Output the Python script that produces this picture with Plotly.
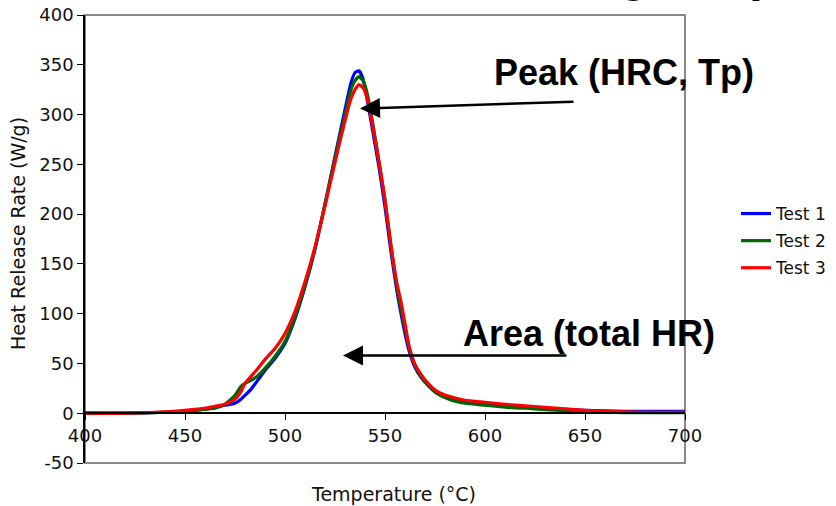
import plotly.graph_objects as go

temperature = [400, 420, 440, 450, 460, 465, 470, 475, 478, 480, 483, 486, 490, 495, 500,
               505, 510, 515, 520, 525, 530, 533, 535, 537, 539, 541, 544, 547, 550, 553,
               556, 558, 560, 562, 565, 568, 572, 576, 582, 590, 600, 610, 620, 630, 640,
               650, 660, 670, 680, 690, 700]

test1 = [0, 0, 1, 2, 4, 6, 8, 10, 14, 18, 24, 32, 43, 55, 70,
         95, 127, 165, 210, 258, 305, 332, 342, 344, 336, 316, 282, 247, 207, 162,
         122, 100, 80, 63, 46, 36, 27, 20, 15, 12, 10, 8, 7, 5, 4,
         3, 2.5, 2, 2, 2, 2]

test2 = [0, 0, 1, 2, 4, 5, 9, 18, 27, 30, 33, 37, 45, 57, 72,
         97, 128, 165, 210, 256, 300, 325, 334, 338, 334, 322, 290, 252, 214, 168,
         126, 105, 85, 66, 48, 37, 27, 20, 14, 10, 8, 6, 5, 3.5, 2.5,
         1.5, 1, 0.5, 0.5, 0.5, 0.5]

test3 = [0, 0, 1.5, 3, 5, 7, 9, 14, 22, 30, 37, 44, 54, 65, 80,
         102, 132, 167, 208, 252, 294, 316, 325, 330, 327, 317, 287, 253, 214, 168,
         130, 112, 90, 68, 49, 39, 29, 22, 17, 13, 11, 9, 7.5, 6, 4.5,
         3, 2, 1.5, 1, 1, 1]

series_names = ["Test 1", "Test 2", "Test 3"]
series_values = [test1, test2, test3]
series_colors = ["#0000ff", "#006600", "#ff0000"]

x_ticks = [400, 450, 500, 550, 600, 650, 700]
y_ticks = [-50, 0, 50, 100, 150, 200, 250, 300, 350, 400]

fig = go.Figure()
for name, vals, col in zip(series_names, series_values, series_colors):
    fig.add_trace(go.Scatter(x=temperature, y=vals, mode="lines", name=name,
                             legendgroup=name,
                             line=dict(color=col, width=3.2, shape="spline", smoothing=0.5)))

tick_font = dict(family="DejaVu Sans", size=18, color="#111111")
ann_font = dict(family="Liberation Sans", size=36, color="black", weight="bold")

fig.update_layout(
    width=836, height=506,
    margin=dict(l=85, r=151, t=15, b=43, autoexpand=False),
    paper_bgcolor="white", plot_bgcolor="white",
    showlegend=True,
    legend=dict(x=1.085, y=0.596, xanchor="left", yanchor="top",
                font=dict(family="DejaVu Sans", size=17, color="#111111"),
                tracegroupgap=2, bgcolor="rgba(0,0,0,0)"),
    xaxis=dict(range=[400, 700], tickvals=x_ticks, ticktext=[str(v) for v in x_ticks],
               showgrid=False, zeroline=False, automargin=False,
               anchor="free", position=50/450, showline=True, linecolor="black", linewidth=1.5,
               ticks="outside", ticklen=6, tickcolor="black", tickfont=tick_font),
    yaxis=dict(range=[-50, 400], tickvals=y_ticks, ticktext=[str(v) for v in y_ticks],
               showgrid=False, zeroline=False, automargin=False,
               showline=True, linecolor="black", linewidth=1.5,
               ticks="outside", ticklen=6, tickcolor="black", tickfont=tick_font),
    shapes=[dict(type="rect", xref="paper", yref="paper", x0=0, x1=1, y0=0, y1=1,
                 line=dict(color="#888888", width=2), layer="below")],
    annotations=[
        dict(text="Temperature (°C)", xref="paper", yref="paper", x=(393 - 85) / 600,
             y=(463 - 494) / 448, xanchor="center", yanchor="middle", showarrow=False,
             font=dict(family="DejaVu Sans", size=19, color="#111111")),
        dict(text="Heat Release Rate (W/g)", xref="paper", yref="paper", x=(18 - 85) / 600,
             y=(463 - 234) / 448, xanchor="center", yanchor="middle", textangle=-90,
             showarrow=False, font=dict(family="DejaVu Sans", size=19, color="#111111")),
        dict(text="Peak (HRC, Tp)", x=669.5, y=342, xref="x", yref="y", showarrow=False,
             xanchor="center", yanchor="middle", font=ann_font),
        dict(text="Area (total HR)", x=651.75, y=80, xref="x", yref="y", showarrow=False,
             xanchor="center", yanchor="middle", font=ann_font),
        dict(text="", x=537.5, y=306, ax=645, ay=313, xref="x", yref="y", axref="x", ayref="y",
             showarrow=True, arrowhead=2, arrowsize=1.6, arrowwidth=2.5, arrowcolor="black"),
        dict(text="", x=529, y=58, ax=641.5, ay=58, xref="x", yref="y", axref="x", ayref="y",
             showarrow=True, arrowhead=2, arrowsize=1.6, arrowwidth=2.5, arrowcolor="black"),
        dict(text="Testing Output", xref="paper", yref="paper", x=(473 - 85) / 600,
             y=(463 - 4) / 448, xanchor="left", yanchor="bottom", showarrow=False,
             font=dict(family="Liberation Sans", size=50, color="black", weight="bold")),
    ],
)

fig.write_html("out.html", config={"displayModeBar": False},
               post_script="document.body.style.margin='0px';")
